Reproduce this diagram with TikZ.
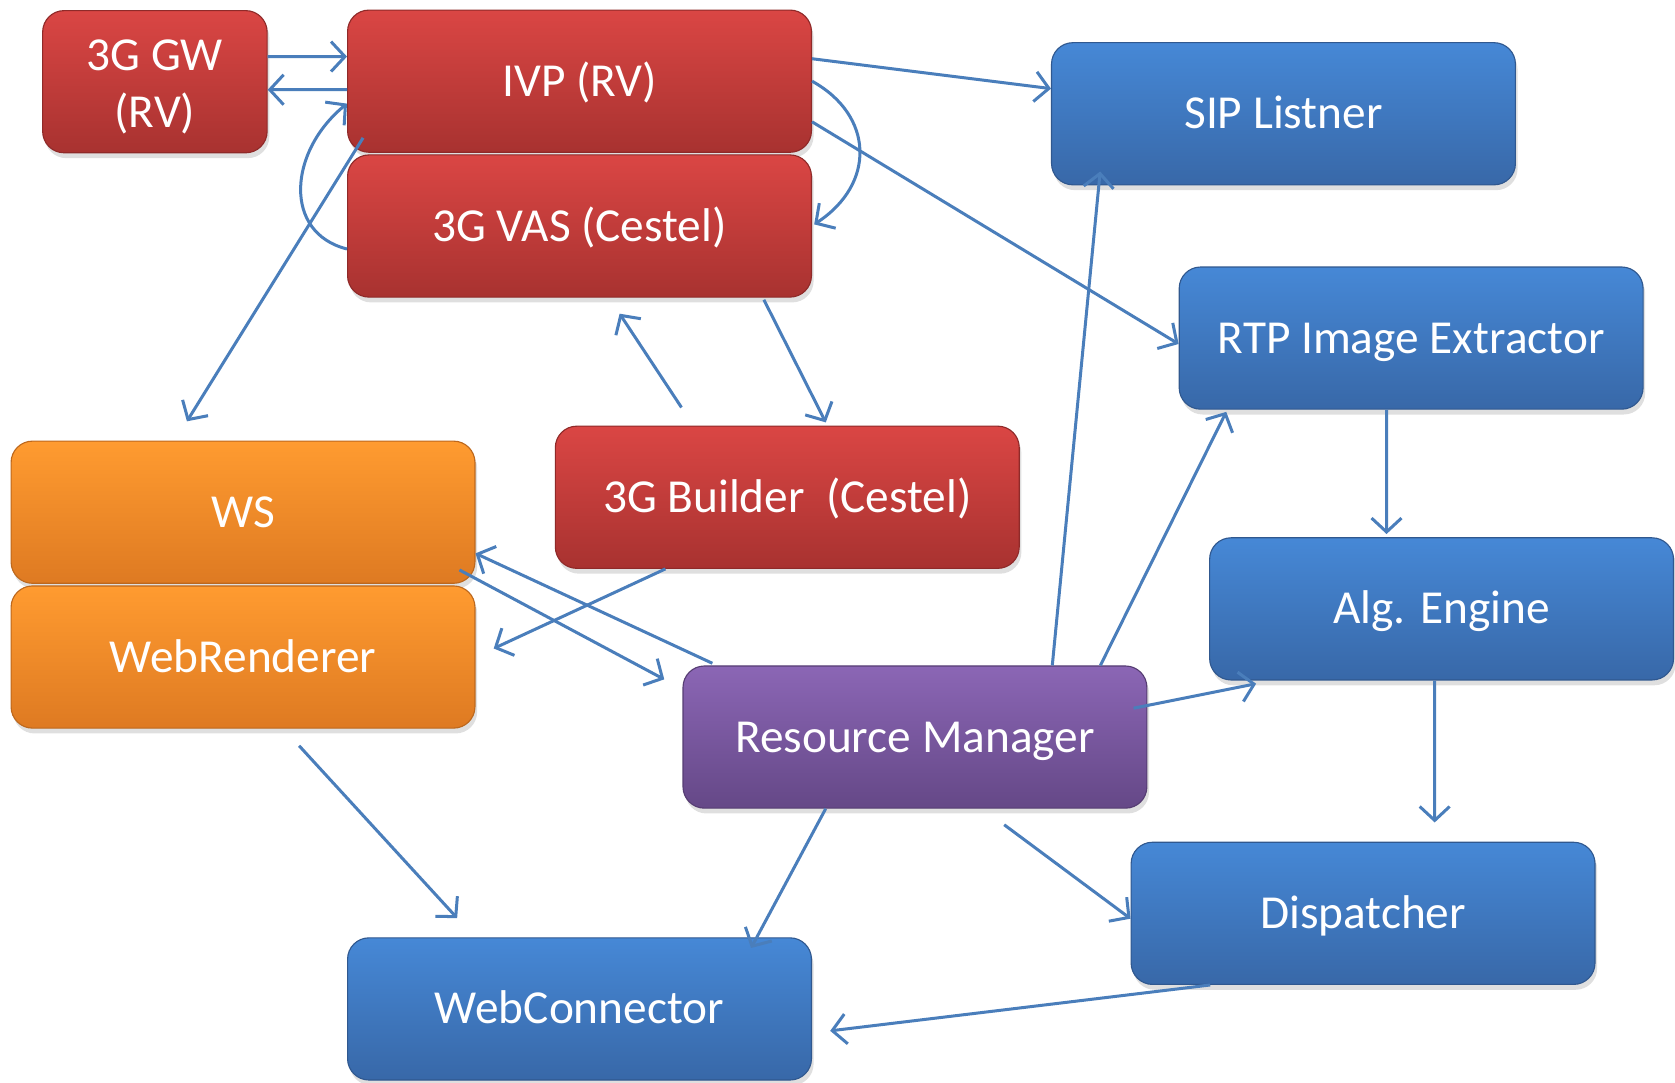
\documentclass[tikz,border=0pt]{standalone}
\usepackage{fontspec}
\setmainfont{Carlito}
\usetikzlibrary{arrows.meta, shadows}
\definecolor{redtop}{RGB}{218,70,68}
\definecolor{redbot}{RGB}{168,50,48}
\definecolor{bluetop}{RGB}{70,136,214}
\definecolor{bluebot}{RGB}{56,104,168}
\definecolor{orangetop}{RGB}{255,155,48}
\definecolor{orangebot}{RGB}{222,122,34}
\definecolor{purpletop}{RGB}{139,102,181}
\definecolor{purplebot}{RGB}{101,72,135}
\definecolor{linkblue}{RGB}{74,126,187}
\tikzstyle{block} = [rectangle, rounded corners=0.2cm, minimum width=4.34cm, minimum height=1.33cm, text centered, text=white, font=\fontsize{12.6}{15}\selectfont, text height=11pt, text depth=3pt, line width=0.3pt, drop shadow={shadow xshift=0.02cm, shadow yshift=-0.05cm, opacity=0.25}]
\tikzstyle{redbox} = [block, top color=redtop, bottom color=redbot, draw=redbot!85!black]
\tikzstyle{bluebox} = [block, top color=bluetop, bottom color=bluebot, draw=bluebot!85!black]
\tikzstyle{orangebox} = [block, top color=orangetop, bottom color=orangebot, draw=orangebot!85!black]
\tikzstyle{purplebox} = [block, top color=purpletop, bottom color=purplebot, draw=purplebot!85!black]
\tikzstyle{arrow} = [line width=0.8pt, draw=linkblue, -{Straight Barb[length=1.3mm,width=2.8mm]}]
\begin{document}
\begin{tikzpicture}[x=0.01cm, y=-0.01cm, node distance=1.355cm]
\useasboundingbox (0,0) rectangle (1568,1013);
\node (gw) [redbox, minimum width=2.1cm, align=center, text height=, text depth=] at (145,76.5) {\rule{0pt}{11pt}3G GW\\(RV)};
\node (ivp) [redbox] at (542.5,76) {IVP (RV)};
\node (vas) [redbox, below of=ivp] {3G VAS (Cestel)};
\node (sip) [bluebox] at (1201.5,106.5) {SIP Listner};
\node (rtp) [bluebox] at (1321,316.5) {RTP Image Extractor};
\node (builder) [redbox] at (737,465.5) {3G Builder~ (Cestel)};
\node (ws) [orangebox] at (227.5,479.5) {WS};
\node (webr) [orangebox, below of=ws] {WebRenderer};
\node (alg) [bluebox] at (1349.5,570) {Alg. Engine};
\node (rm) [purplebox] at (856.5,690) {Resource Manager};
\node (disp) [bluebox] at (1276,855) {Dispatcher};
\node (webc) [bluebox] at (542.5,944.5) {WebConnector};

\draw [arrow] ([yshift=0.235cm]gw.east) -- ([yshift=0.23cm]ivp.west);
\draw [arrow] ([yshift=-0.08cm]ivp.west) -- ([yshift=-0.075cm]gw.east);
\draw [arrow] ([yshift=-0.215cm]vas.west) .. controls +(-60,-15) and +(-55,45) .. ([yshift=-0.21cm]ivp.west);
\draw [arrow] ([xshift=0.15cm,yshift=0.14cm]ivp.south west) -- ([xshift=-0.525cm,yshift=0.18cm]ws.north);
\draw [arrow] (ivp.east) .. controls +(58,32) and +(58,-38) .. ([xshift=0.02cm,yshift=0.015cm]vas.east);
\draw [arrow] ([yshift=0.21cm]ivp.east) -- ([yshift=0.235cm]sip.west);
\draw [arrow] ([yshift=-0.38cm]ivp.east) -- ([yshift=-0.055cm]rtp.west);
\draw [arrow] ([xshift=-0.99cm,yshift=0.17cm]builder.north) -- ([xshift=0.375cm,yshift=-0.15cm]vas.south);
\draw [arrow] ([xshift=1.725cm,yshift=-0.02cm]vas.south) -- ([xshift=0.36cm,yshift=0.03cm]builder.north);
\draw [arrow] ([xshift=-1.14cm]builder.south) -- ([xshift=0.17cm,yshift=0.08cm]webr.east);
\draw [arrow] ([xshift=0.28cm,yshift=0.02cm]rm.north west) -- ([yshift=-0.385cm]ws.east);
\draw [arrow] ([xshift=-0.15cm,yshift=0.13cm]ws.south east) -- ([xshift=-0.17cm,yshift=0.54cm]rm.west);
\draw [arrow] ([xshift=1.285cm]rm.north) -- ([xshift=-1.715cm,yshift=0.13cm]sip.south);
\draw [arrow] ([xshift=1.735cm]rm.north) -- ([xshift=-1.73cm,yshift=-0.02cm]rtp.south);
\draw [arrow] ([xshift=-0.23cm]rtp.south) -- ([xshift=-0.515cm,yshift=0.03cm]alg.north);
\draw [arrow] ([xshift=-0.13cm,yshift=0.27cm]rm.east) -- ([xshift=0.44cm,yshift=-0.03cm]alg.south west);
\draw [arrow] ([xshift=-0.065cm]alg.south) -- ([xshift=0.67cm,yshift=0.18cm]disp.north);
\draw [arrow] ([xshift=0.835cm,yshift=-0.15cm]rm.south) -- ([yshift=-0.05cm]disp.west);
\draw [arrow] ([xshift=-0.835cm]rm.south) -- ([xshift=1.605cm,yshift=-0.1cm]webc.north);
\draw [arrow] ([xshift=0.525cm,yshift=-0.16cm]webr.south) -- ([xshift=-1.145cm,yshift=0.18cm]webc.north);
\draw [arrow] ([xshift=-1.43cm]disp.south) -- ([xshift=0.17cm,yshift=-0.205cm]webc.east);

\end{tikzpicture}
\end{document}
